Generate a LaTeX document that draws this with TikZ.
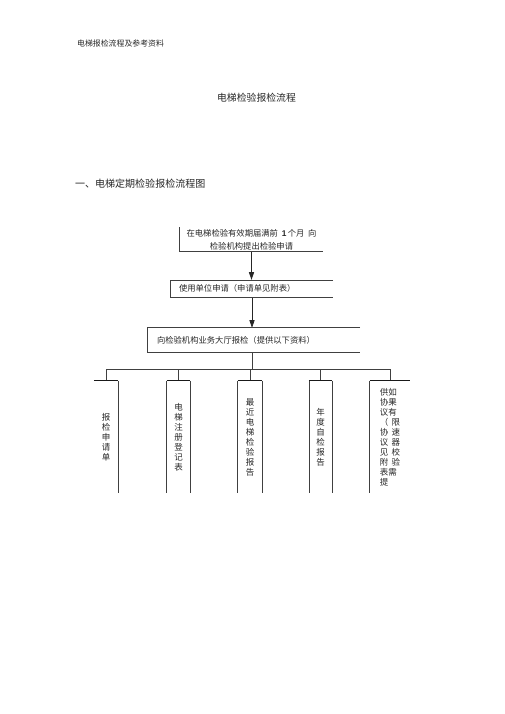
\documentclass[tikz,border=0pt]{standalone}
\usepackage{fontspec}
\setmainfont{Noto Sans CJK SC}
\newfontfamily\latinfont{Liberation Sans}
\usetikzlibrary{arrows.meta}
\usetikzlibrary{positioning}
\tikzset{
    stepbox/.style={
      rectangle,
           inner sep=2pt,
           text=black!85,
           font=\fontsize{9.8}{15.3}\selectfont,
           },
}
\tikzset{
    docbox/.style={
      rectangle,
           inner sep=0pt,
           align=center,
           minimum height=132pt,
           text=black!85,
           font=\fontsize{10}{11.8}\selectfont,
           },
}
\tikzset{
    heading/.style={
      inner sep=0pt,
           text=black!85,
           },
}
\tikzset{
    wire/.style={
      draw=black!75, line width=0.8pt,
           },
}
\tikzset{
    top-line/.style={
      draw=black!90, line width=1.3pt,
           },
}
\tikzset{
    flow/.style={
      -{Triangle[length=9pt,width=6pt]}, draw=black!85, line width=0.9pt,
           },
}
\begin{document}
\begin{tikzpicture}[x=1.1788pt,y=-1.1788pt]

\useasboundingbox (0,0) rectangle (505,714);

\node[heading,anchor=west,font=\fontsize{9.3}{11}\selectfont](head) at (77,43){电梯报检流程及参考资料};
\node[heading,font=\fontsize{11.6}{14}\selectfont](title) at (256.5,98){电梯检验报检流程};
\node[heading,anchor=west,font=\fontsize{11.8}{14}\selectfont](sect) at (75,184){一、电梯定期检验报检流程图};

\node[stepbox,align=center,minimum width=168.6pt,minimum height=27.1pt](apply) at (251.5,239.5){在电梯检验有效期届满前\ \ {\latinfont\bfseries 1}\,个月\ \ 向\\检验机构提出检验申请};
\node[stepbox,align=left,text width=172pt,minimum width=191pt,minimum height=20pt](unit) at (252,288.5){使用单位申请（申请单见附表）};
\node[stepbox,align=left,text width=227.5pt,minimum width=251pt,minimum height=28.3pt](hall) at (253.5,340){向检验机构业务大厅报检（提供以下资料）};

\path (apply.south) edge[flow](apply.south |- unit.north);
\path (unit.south) edge[flow](unit.south |- hall.north);

\draw[wire] (apply.north west) -- (apply.south west) -- (apply.south east);
\draw[wire] (unit.north east) -- (unit.north west) -- (unit.south west) -- (unit.south east);
\draw[wire] (hall.north east) -- (hall.north west) -- (hall.south west) -- (hall.south east);

\node[docbox,minimum width=28.3pt](form) at (106,437){报\\检\\申\\请\\单};
\node[docbox,minimum width=27.1pt](reg) at (178.5,437){电\\梯\\注\\册\\登\\记\\表};
\node[docbox,minimum width=28.3pt](last) at (250,437){最\\近\\电\\梯\\检\\验\\报\\告};
\node[docbox,minimum width=27.1pt](self) at (320.5,437){年\\度\\自\\检\\报\\告};
\node[docbox,align=left,minimum width=47.2pt](gov) at (390,437){供如\\协果\\议有\\（\hspace{4pt}限\\协\hspace{4pt}速\\议\hspace{4pt}器\\见\hspace{4pt}校\\附\hspace{4pt}验\\表需\\提};

\coordinate (hub) at (252,369);
\draw[wire] (hall.south -| hub) -- (hub);
\draw[wire] (form.north |- hub) -- (gov.north |- hub);
\foreach \c in {form,reg,last,self,gov}
  \draw[wire] (\c.north |- hub) -- (\c.north);

\foreach \c in {form,reg,last,self,gov}
  \draw[top-line] (\c.north west) -- (\c.north east);
\draw[wire] (form.north east) -- (form.south east);
\foreach \c in {reg,last,self}
  \draw[wire] (\c.north west) -- (\c.south west) (\c.north east) -- (\c.south east);
\draw[wire] (gov.north west) -- (gov.south west);

\end{tikzpicture}
\end{document}
